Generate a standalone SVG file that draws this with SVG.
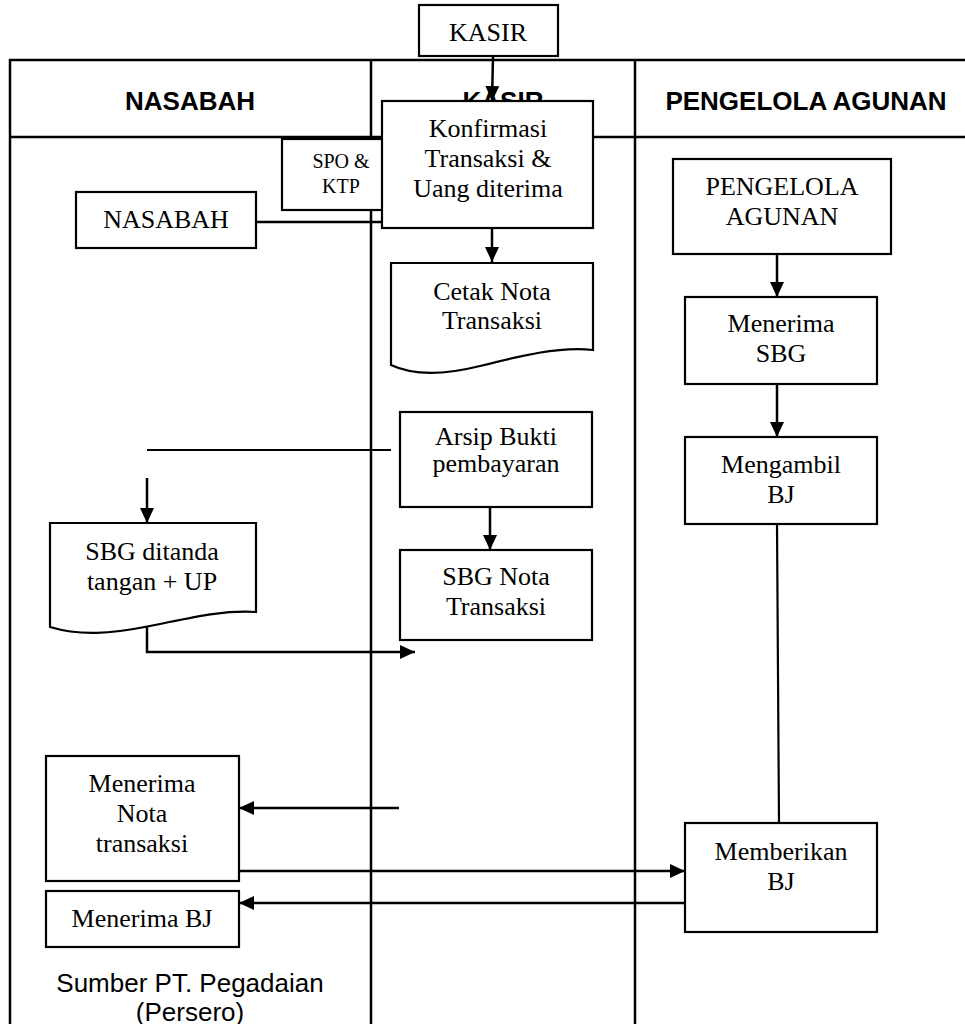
<svg xmlns="http://www.w3.org/2000/svg" width="965" height="1024" viewBox="0 0 965 1024">
<defs>
<marker id="ah" markerUnits="userSpaceOnUse" markerWidth="16" markerHeight="16" viewBox="0 0 16 16" refX="15" refY="8" orient="auto">
<path d="M0,1 L15,8 L0,15 Z" fill="#000"/>
</marker>
<style>
.frame{fill:none;stroke:#000;stroke-width:2.5}
.hdr{font-family:"Liberation Sans",Arial,sans-serif;font-weight:bold;font-size:26px;text-anchor:middle;fill:#000}
.box{fill:#fff;stroke:#000;stroke-width:2.2}
.t{font-family:"Liberation Serif","Times New Roman",serif;font-size:26px;text-anchor:middle;fill:#000}
.ts{font-family:"Liberation Serif","Times New Roman",serif;font-size:20px;text-anchor:middle;fill:#000}
.src{font-family:"Liberation Sans",Arial,sans-serif;font-size:26px;text-anchor:middle;fill:#000}
.c{fill:none;stroke:#000;stroke-width:2.2}
.ca{fill:none;stroke:#000;stroke-width:2.5;marker-end:url(#ah)}
</style>
</defs>
<rect width="965" height="1024" fill="#fff"/>
<g id="swimlanes">
<path class="frame" d="M10,1030 V60 H970 M10,137 H970 M371,60 V1030 M635,60 V1030"/>
<text class="hdr" x="190" y="110">NASABAH</text>
<text class="hdr" x="503" y="110">KASIR</text>
<text class="hdr" x="806" y="110">PENGELOLA AGUNAN</text>
</g>
<g id="connectors">
<path class="ca" d="M493,56 L492,101"/>
<path class="ca" d="M256,222 H410"/>
<path class="ca" d="M492,228 V262"/>
<path class="c" d="M147,450 H391"/>
<path class="ca" d="M147,478 V523"/>
<path class="ca" d="M490,507 V550"/>
<path class="ca" d="M147,627 V652 H415"/>
<path class="ca" d="M777,254 V297"/>
<path class="ca" d="M777,384 V437"/>
<path class="c" d="M777,524 L779,823"/>
<path class="ca" d="M399,808 H239"/>
<path class="ca" d="M239,871 H685"/>
<path class="ca" d="M685,903 H239"/>
</g>
<g id="kasir-top">
<rect class="box" x="419" y="5" width="139" height="51"/>
<text class="t" x="488" y="41">KASIR</text>
</g>
<g id="spo-ktp">
<rect class="box" x="282" y="139" width="118" height="71"/>
<text class="ts" x="341" y="168">SPO &amp;</text>
<text class="ts" x="341" y="193">KTP</text>
</g>
<g id="konfirmasi">
<rect class="box" x="382" y="101" width="211" height="127"/>
<text class="t" x="488" y="137">Konfirmasi</text>
<text class="t" x="488" y="167">Transaksi &amp;</text>
<text class="t" x="488" y="197">Uang diterima</text>
</g>
<g id="nasabah">
<rect class="box" x="76" y="192" width="180" height="56"/>
<text class="t" x="166" y="228">NASABAH</text>
</g>
<g id="cetak-nota">
<path class="box" d="M391,263 H593 V350 C560,346 520,356 480,366 C440,376 410,374 391,365 Z"/>
<text class="t" x="492" y="300">Cetak Nota</text>
<text class="t" x="492" y="329">Transaksi</text>
</g>
<g id="arsip-bukti">
<rect class="box" x="400" y="412" width="192" height="95"/>
<text class="t" x="496" y="445">Arsip Bukti</text>
<text class="t" x="496" y="472">pembayaran</text>
</g>
<g id="sbg-nota">
<rect class="box" x="400" y="550" width="192" height="90"/>
<text class="t" x="496" y="585">SBG Nota</text>
<text class="t" x="496" y="615">Transaksi</text>
</g>
<g id="sbg-ditanda">
<path class="box" d="M50,523 H256 V612 C220,610 190,618 150,626 C110,634 80,636 50,627 Z"/>
<text class="t" x="152" y="560">SBG ditanda</text>
<text class="t" x="152" y="590">tangan + UP</text>
</g>
<g id="pengelola-agunan">
<rect class="box" x="673" y="159" width="218" height="95"/>
<text class="t" x="782" y="195">PENGELOLA</text>
<text class="t" x="782" y="225">AGUNAN</text>
</g>
<g id="menerima-sbg">
<rect class="box" x="685" y="297" width="192" height="87"/>
<text class="t" x="781" y="332">Menerima</text>
<text class="t" x="781" y="362">SBG</text>
</g>
<g id="mengambil-bj">
<rect class="box" x="685" y="437" width="192" height="87"/>
<text class="t" x="781" y="473">Mengambil</text>
<text class="t" x="781" y="503">BJ</text>
</g>
<g id="memberikan-bj">
<rect class="box" x="685" y="823" width="192" height="109"/>
<text class="t" x="781" y="860">Memberikan</text>
<text class="t" x="781" y="890">BJ</text>
</g>
<g id="menerima-nota">
<rect class="box" x="46" y="756" width="193" height="125"/>
<text class="t" x="142" y="792">Menerima</text>
<text class="t" x="142" y="822">Nota</text>
<text class="t" x="142" y="852">transaksi</text>
</g>
<g id="menerima-bj">
<rect class="box" x="46" y="891" width="193" height="56"/>
<text class="t" x="142" y="927">Menerima BJ</text>
</g>
<g id="source">
<text class="src" x="190" y="992">Sumber PT. Pegadaian</text>
<text class="src" x="190" y="1021">(Persero)</text>
</g>
</svg>
